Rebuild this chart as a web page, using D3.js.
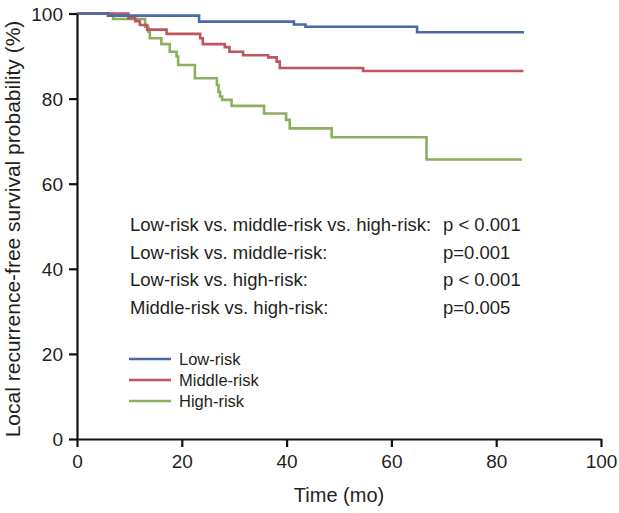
<!DOCTYPE html>
<html>
<head>
<meta charset="utf-8">
<script src="https://cdn.jsdelivr.net/npm/d3@7"></script>
<style>
  html, body { margin: 0; padding: 0; background: #fff; }
  svg { display: block; }
  text { font-family: "Liberation Sans", Arial, sans-serif; fill: #231f20; }
</style>
</head>
<body>
<svg id="chart" width="619" height="513"></svg>
<script>
// ---- Data ----
const xTicks = [0, 20, 40, 60, 80, 100];
const yTicks = [0, 20, 40, 60, 80, 100];

const seriesNames = ["Low-risk", "Middle-risk", "High-risk"];
const seriesColors = ["#4a6aa6", "#c0565b", "#8aaf5f"];

const lowTimes = [0, 5.9, 23.3, 41.4, 43.6, 64.9, 85.3];
const lowSurv  = [100, 99.5, 98.1, 97.4, 96.9, 95.6, 95.6];

const midTimes = [0, 9.8, 11.1, 12.0, 13.4, 17.1, 23.5, 24.0, 28.2, 29.1, 31.7, 36.5, 38.1, 38.7, 54.6, 85.2];
const midSurv  = [100, 98.9, 98.2, 97.3, 96.2, 95.2, 94.2, 92.8, 92.1, 91.0, 90.2, 89.7, 88.7, 87.2, 86.5, 86.5];

const highTimes = [0, 6.9, 13.0, 13.6, 13.9, 16.1, 17.7, 19.0, 19.3, 22.5, 26.7, 27.0, 27.3, 27.7, 29.5, 35.7, 39.9, 40.6, 48.6, 66.7, 84.9];
const highSurv  = [100, 98.7, 96.9, 95.7, 94.2, 92.8, 91.0, 89.9, 87.9, 84.8, 83.2, 81.6, 80.5, 79.7, 78.3, 76.5, 75.0, 73.0, 70.9, 65.7, 65.7];

const statLabels = ["Low-risk vs. middle-risk vs. high-risk:", "Low-risk vs. middle-risk:", "Low-risk vs. high-risk:", "Middle-risk vs. high-risk:"];
const statValues = ["p < 0.001", "p=0.001", "p < 0.001", "p=0.005"];

const xTitle = "Time (mo)";
const yTitle = "Local recurrence-free survival probability (%)";

// ---- Chart ----
const svg = d3.select("#chart");
const x = d3.scaleLinear().domain([0, 100]).range([77, 601]);
const y = d3.scaleLinear().domain([0, 100]).range([439, 13.5]);

const series = [
  { name: seriesNames[0], color: seriesColors[0], t: lowTimes, s: lowSurv },
  { name: seriesNames[1], color: seriesColors[1], t: midTimes, s: midSurv },
  { name: seriesNames[2], color: seriesColors[2], t: highTimes, s: highSurv }
];

const line = d3.line()
  .x(d => x(d[0]))
  .y(d => y(d[1]))
  .curve(d3.curveStepAfter);

// draw high, middle, low (low on top)
[2, 1, 0].forEach(i => {
  const sr = series[i];
  svg.append("path")
    .datum(sr.t.map((t, k) => [t, sr.s[k]]))
    .attr("fill", "none")
    .attr("stroke", sr.color)
    .attr("stroke-width", 2.6)
    .attr("d", line);
});

// axes
const yAxis = d3.axisLeft(y).tickValues(yTicks).tickSize(8).tickSizeOuter(0).tickPadding(6);
const xAxis = d3.axisBottom(x).tickValues(xTicks).tickSize(8).tickSizeOuter(0).tickPadding(8);

const gy = svg.append("g").attr("transform", `translate(${x(0)},0)`).call(yAxis);
const gx = svg.append("g").attr("transform", `translate(0,${y(0)})`).call(xAxis);

[gx, gy].forEach(g => {
  g.select(".domain").attr("stroke", "#111").attr("stroke-width", 2.2);
  g.selectAll(".tick line").attr("stroke", "#111").attr("stroke-width", 2.2);
  g.selectAll(".tick text").attr("font-size", 19).attr("fill", "#231f20")
    .style("font-family", "'Liberation Sans', Arial, sans-serif");
});
gy.selectAll(".tick text").attr("dy", "0.36em");

// axis titles
svg.append("text")
  .attr("x", (x(0) + x(100)) / 2)
  .attr("y", 502)
  .attr("text-anchor", "middle")
  .attr("font-size", 20)
  .text(xTitle);

svg.append("text")
  .attr("transform", "translate(20,229) rotate(-90)")
  .attr("text-anchor", "middle")
  .attr("font-size", 21)
  .text(yTitle);

// statistics block
const statBase = [230.5, 258.5, 286, 313.5];
statLabels.forEach((t, i) => {
  svg.append("text").attr("x", 130).attr("y", statBase[i]).attr("font-size", 18.5).text(t);
  svg.append("text").attr("x", 443).attr("y", statBase[i]).attr("font-size", 18.5).text(statValues[i]);
});

// legend
const legY = [359, 380, 401];
series.forEach((sr, i) => {
  svg.append("line")
    .attr("x1", 129).attr("x2", 171)
    .attr("y1", legY[i]).attr("y2", legY[i])
    .attr("stroke", sr.color).attr("stroke-width", 2.6);
  svg.append("text")
    .attr("x", 179).attr("y", legY[i] + 6)
    .attr("font-size", 16.5)
    .text(sr.name);
});
</script>
</body>
</html>
